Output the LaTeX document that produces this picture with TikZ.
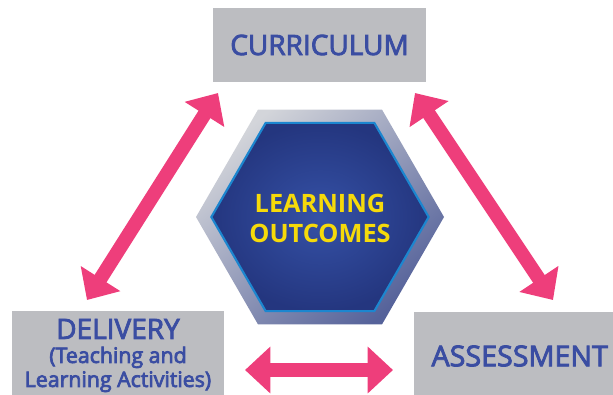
\documentclass[tikz,border=0pt]{standalone}
\usepackage{fontspec}
\setmainfont{Open Sans}
\newfontfamily\semifont[FakeBold=3]{Open Sans}
\newfontfamily\subfont[FakeBold=3.5]{Open Sans}
\usepackage{xcolor}
\usepackage{tikz}
\usetikzlibrary{shapes.geometric,arrows.meta}

\definecolor{boxgray}{HTML}{BCBDC1}
\definecolor{titleblue}{HTML}{3A4DA2}
\definecolor{linkpink}{HTML}{EE3E7B}
\definecolor{coreblue}{HTML}{3551A6}
\definecolor{coredark}{HTML}{24367F}
\definecolor{coreedge}{HTML}{1C86CF}
\definecolor{ringlight}{HTML}{D3D5DA}
\definecolor{ringdark}{HTML}{55629A}
\definecolor{outyellow}{HTML}{F6DA0A}

\newcommand{\subline}{\subfont\fontsize{16}{17}\selectfont}

\tikzset{
    topicbox/.style={
        rectangle, fill=boxgray, inner sep=0pt,
        text=titleblue, align=center
    },
    hexring/.style={
        regular polygon, regular polygon sides=6,
        minimum size=186pt, inner sep=0pt,
        top color=ringlight, bottom color=ringdark, shading angle=40
    },
    hexcore/.style={
        regular polygon, regular polygon sides=6,
        minimum size=163pt, inner sep=0pt,
        draw=coreedge, line width=1.6pt,
        inner color=coreblue, outer color=coredark
    },
    hextext/.style={
        text=outyellow, align=center, inner sep=0pt,
        font=\fontsize{19}{22.5}\selectfont\bfseries
    },
    linkarrow/.style={
        draw=linkpink, line width=10.5pt,
        {Triangle[length=19pt,width=34pt]}-{Triangle[length=19pt,width=34pt]}
    }
}

\begin{document}
\begin{tikzpicture}[x=0.75pt, y=-0.75pt]
    \clip (0,0) rectangle (613,394);
    % Boxes
    \node[topicbox, minimum width=159.75pt, minimum height=55.5pt,
          font=\semifont\fontsize{21}{24}\selectfont]
        (curr) at (319.5,45) {CURRICULUM};
    \node[topicbox, minimum width=159pt, minimum height=66.75pt,
          font=\semifont\fontsize{21}{18}\selectfont]
        (deliv) at (118,355.5)
        {DELIVERY\\[0pt] \subline (Teaching and\\ \subline Learning Activities)};
    \node[topicbox, minimum width=154.5pt, minimum height=66pt,
          font=\semifont\fontsize{21.5}{24}\selectfont]
        (assess) at (517,356) {\hspace*{4pt}ASSESSMENT};
    % Hexagon
    \node[hexring] (ring) at (320,217) {};
    \node[hexcore] (core) at (320,217) {};
    \node[hextext] (outcomes) at (320,218) {LEARNING\\OUTCOMES};
    % Arrow ends
    \coordinate (currL)   at (218,93);
    \coordinate (currR)   at (415,93);
    \coordinate (delivT)  at (87,300);
    \coordinate (delivR)  at (245,370);
    \coordinate (assessT) at (553,300);
    \coordinate (assessL) at (393,370);
    % Arrows
    \draw[linkarrow] (currL) -- (delivT);
    \draw[linkarrow] (currR) -- (assessT);
    \draw[linkarrow] (delivR) -- (assessL);
\end{tikzpicture}
\end{document}
